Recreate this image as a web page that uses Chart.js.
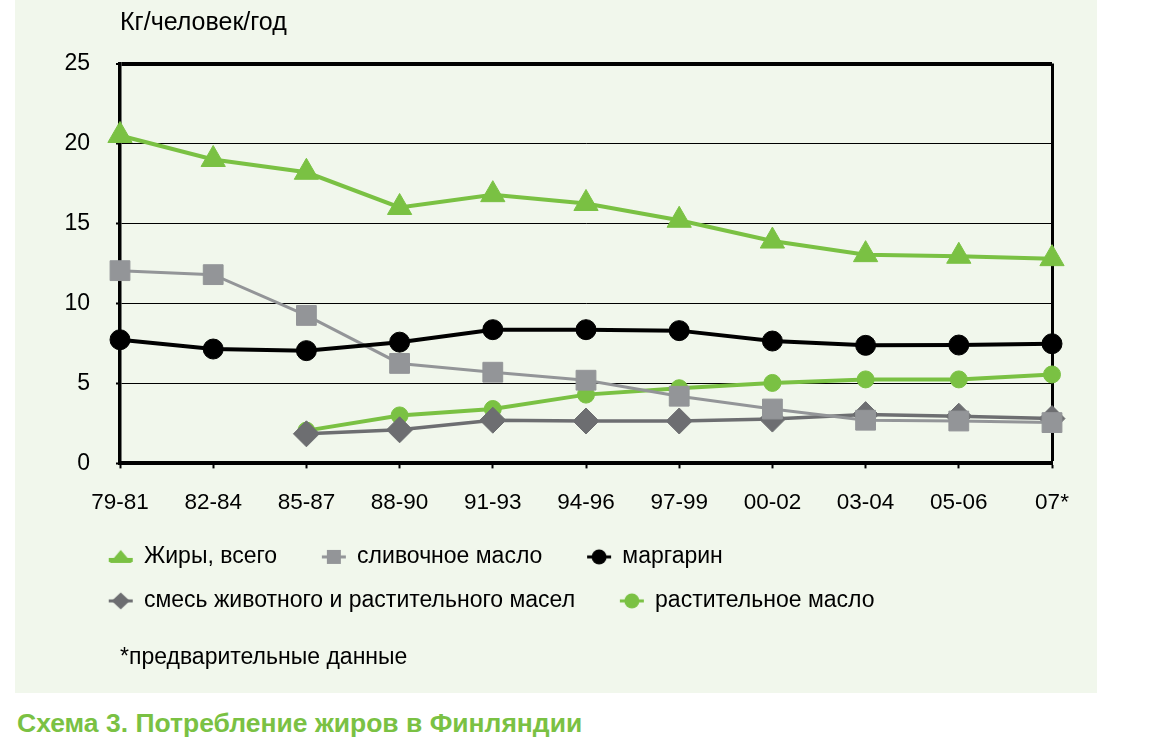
<!DOCTYPE html>
<html>
<head>
<meta charset="utf-8">
<script src="https://cdn.jsdelivr.net/npm/chart.js"></script>
<style>
body{margin:0;background:#fff;width:1150px;height:750px;position:relative;overflow:hidden;font-family:'Liberation Sans',Arial,sans-serif}
#panel{position:absolute;left:15px;top:0;width:1082px;height:693px;background:#f1f7ec}
#caption{position:absolute;left:17px;top:706px;font-weight:bold;font-size:26.5px;line-height:34px;color:#7ac143}
</style>
</head>
<body>
<div id="panel"><canvas id="mychart" width="1082" height="693"></canvas></div>
<div id="caption">Схема 3. Потребление жиров в Финляндии</div>
<script>
const Periods=['79-81','82-84','85-87','88-90','91-93','94-96','97-99','00-02','03-04','05-06','07*']
const FatsTotal=[20.5,19.0,18.2,16.0,16.8,16.25,15.2,13.9,13.05,12.95,12.8]
const Butter=[12.05,11.8,9.25,6.25,5.7,5.2,4.2,3.4,2.7,2.65,2.55]
const Margarine=[7.73,7.15,7.05,7.58,8.36,8.36,8.3,7.65,7.38,7.4,7.48]
const Blend=[null,null,1.85,2.1,2.7,2.65,2.65,2.77,3.05,2.95,2.8]
const VegOil=[null,null,2.05,3.0,3.4,4.3,4.7,5.03,5.25,5.25,5.56]
const YTicks=[0,5,10,15,20,25]

Chart.defaults.font.family="'Liberation Sans',Arial,sans-serif"
Chart.defaults.color='#000'

const GREEN='#7ac143', GREY='#939598', DARK='#6d6e71', BLACK='#000000'

// little "line + marker" pictures for the legend
function legendIcon(color,shape,lw){
    const c=document.createElement('canvas')
    c.width=52; c.height=22
    const g=c.getContext('2d')
    const cx=38, cy=11
    const ly=shape==='triangle'?cy+3:cy
    g.strokeStyle=color; g.lineWidth=lw
    g.beginPath(); g.moveTo(26,ly); g.lineTo(50,ly); g.stroke()
    g.fillStyle=color
    g.beginPath()
    if(shape==='triangle'){g.moveTo(cx,cy-7);g.lineTo(cx+11,cy+6);g.lineTo(cx-11,cy+6)}
    else if(shape==='rect'){g.rect(cx-7,cy-7,14,14)}
    else if(shape==='circle'){g.arc(cx,cy,7.5,0,Math.PI*2)}
    else {g.moveTo(cx,cy-8.5);g.lineTo(cx+9,cy);g.lineTo(cx,cy+8.5);g.lineTo(cx-9,cy)}
    g.closePath(); g.fill()
    return c
}
const Icons=[
    legendIcon(GREEN,'triangle',4),
    legendIcon(GREY,'rect',3),
    legendIcon(BLACK,'circle',3),
    legendIcon(DARK,'rectRot',3),
    legendIcon(GREEN,'circle',3),
]

function series(label,data,color,style,radius,width,order){
    return {
        label:label,
        data:data,
        borderColor:color,
        backgroundColor:color,
        pointBackgroundColor:color,
        pointBorderColor:color,
        pointBorderWidth:1,
        pointStyle:style,
        pointRadius:radius,
        pointHoverRadius:radius,
        borderWidth:width,
        tension:0,
        fill:false,
        clip:false,
        order:order,
    }
}

new Chart('mychart',{
    type:'line',
    data:{
        labels:Periods,
        datasets:[
            series('Жиры, всего',FatsTotal,GREEN,'triangle',14,4,1),
            series('сливочное масло',Butter,GREY,'rect',14,3,3),
            series('маргарин',Margarine,BLACK,'circle',10,4,2),
            series('смесь животного и растительного масел',Blend,DARK,'rectRot',13,3.5,4),
            series('растительное масло',VegOil,GREEN,'circle',8.5,4,5),
        ],
    },
    options:{
        responsive:false,
        animation:false,
        layout:{padding:{left:49,right:45,top:0,bottom:0}},
        scales:{
            x:{
                offset:false,
                grid:{
                    drawOnChartArea:true,
                    color:ctx=>ctx.index===Periods.length-1?'#000':'rgba(0,0,0,0)',
                    lineWidth:ctx=>ctx.index===Periods.length-1?3:1,
                    tickColor:'#000',
                    tickWidth:2,
                    tickLength:5,
                },
                border:{color:'#000',width:4},
                ticks:{font:{size:22.5},color:'#000',padding:21,autoSkip:false,maxRotation:0},
                afterFit:s=>{s.height=61},
            },
            y:{
                min:0,
                max:25,
                afterBuildTicks:s=>{s.ticks=YTicks.map(v=>({value:v}))},
                grid:{
                    color:'#000',
                    lineWidth:ctx=>ctx.tick&&ctx.tick.value===25?4:1,
                    tickColor:'#000',
                    tickWidth:2,
                    tickLength:4,
                },
                border:{color:'#000',width:3.5},
                ticks:{font:{size:23},color:'#000',padding:26},
                afterFit:s=>{s.width=56},
            },
        },
        plugins:{
            title:{
                display:true,
                text:'Кг/человек/год',
                align:'start',
                fullSize:false,
                color:'#000',
                font:{size:25,weight:'normal'},
                padding:{top:8,bottom:25.5},
            },
            subtitle:{
                display:true,
                position:'bottom',
                text:'*предварительные данные',
                align:'start',
                fullSize:false,
                color:'#000',
                font:{size:23},
                padding:{top:21,bottom:22},
            },
            legend:{
                display:true,
                position:'bottom',
                align:'start',
                labels:{
                    usePointStyle:true,
                    pointStyleWidth:47.5,
                    padding:21,
                    color:'#000',
                    font:{size:23},
                    sort:(a,b)=>a.datasetIndex-b.datasetIndex,
                    generateLabels:chart=>{
                        const items=Chart.defaults.plugins.legend.labels.generateLabels(chart)
                        items.forEach(it=>{it.pointStyle=Icons[it.datasetIndex];it.rotation=0})
                        return items
                    },
                },
            },
            tooltip:{enabled:false},
        },
    },
});
</script>
</body>
</html>
